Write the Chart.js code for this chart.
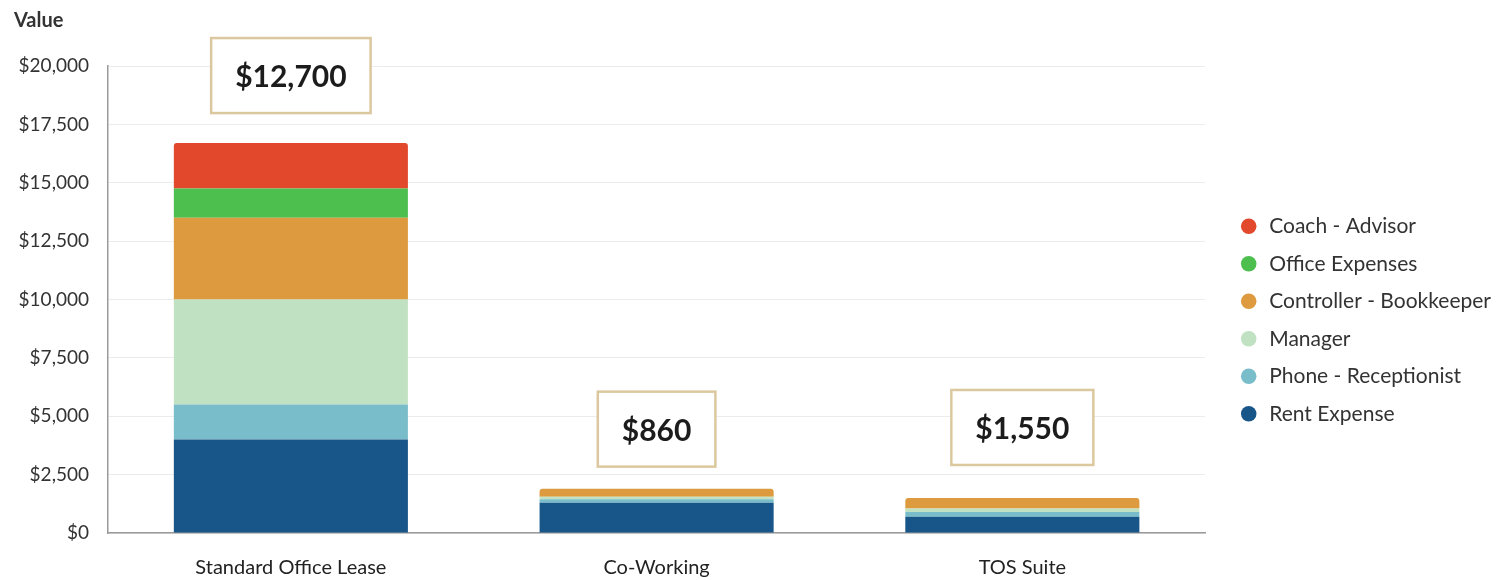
<!DOCTYPE html>
<html><head><meta charset="utf-8">
<script src="https://cdn.jsdelivr.net/npm/chart.js@4.4.0/dist/chart.umd.min.js"></script>
<style>html,body{margin:0;padding:0;background:#fff;}</style>
</head><body>
<canvas id="c" width="1502" height="580"></canvas>
<script>
const categories = ['Standard Office Lease', 'Co-Working', 'TOS Suite'];
const rentExpense = [4000, 1300, 700];
const phoneReceptionist = [1500, 150, 200];
const manager = [4500, 100, 150];
const controllerBookkeeper = [3500, 350, 450];
const officeExpenses = [1250, 0, 0];
const coachAdvisor = [1950, 0, 0];
const calloutValues = [12700, 860, 1550];
const yMin = 0, yMax = 20000, yStep = 2500;
const axisTitle = 'Value';

const seriesList = [
  {label: 'Rent Expense', data: rentExpense, color: '#18568a'},
  {label: 'Phone - Receptionist', data: phoneReceptionist, color: '#79bdca'},
  {label: 'Manager', data: manager, color: '#c1e1c3'},
  {label: 'Controller - Bookkeeper', data: controllerBookkeeper, color: '#dd9a3e'},
  {label: 'Office Expenses', data: officeExpenses, color: '#4dbf4f'},
  {label: 'Coach - Advisor', data: coachAdvisor, color: '#e2482b'}
];

function topIndex(i) {
  let t = -1;
  seriesList.forEach((s, k) => { if (s.data[i] > 0) t = k; });
  return t;
}
const money = v => '$' + Number(v).toLocaleString('en-US');
const FONT = 'Lato, "Noto Sans", sans-serif';

const calloutPlugin = {
  id: 'callouts',
  afterLayout(chart) {
    // move the legend a little to the right of the plot edge
    const lg = chart.legend;
    if (lg) { lg.left += 17; lg.right += 17; lg.top -= 3; lg.bottom -= 3; }
  },
  afterDatasetsDraw(chart, args, opts) {
    const {ctx, scales: {x, y}} = chart;
    ctx.save();
    ctx.font = 'bold 30px ' + FONT;
    categories.forEach((c, i) => {
      const total = seriesList.reduce((a, s) => a + s.data[i], 0);
      const cx = x.getPixelForValue(i);
      const bottom = y.getPixelForValue(total) - opts.gaps[i];
      const h = 75;
      const txt = money(calloutValues[i]);
      const w = ctx.measureText(txt).width + 48;
      ctx.fillStyle = '#ffffff';
      ctx.fillRect(cx - w / 2, bottom - h, w, h);
      ctx.strokeStyle = '#dcc89e';
      ctx.lineWidth = 2.5;
      ctx.strokeRect(cx - w / 2, bottom - h, w, h);
      ctx.fillStyle = '#1c1c1c';
      ctx.textAlign = 'center';
      ctx.textBaseline = 'middle';
      ctx.fillText(txt, cx, bottom - h / 2 + 2);
    });
    ctx.restore();
  },
  afterDraw(chart) {
    const {ctx} = chart;
    ctx.save();
    ctx.font = 'bold 20px ' + FONT;
    ctx.fillStyle = '#333';
    ctx.textAlign = 'left';
    ctx.textBaseline = 'alphabetic';
    ctx.fillText(axisTitle, 14, 27);
    ctx.restore();
  }
};

new Chart(document.getElementById('c'), {
  type: 'bar',
  data: {
    labels: categories,
    datasets: seriesList.map((s, k) => ({
      label: s.label,
      data: s.data,
      backgroundColor: s.color,
      borderColor: s.color,
      borderWidth: 0,
      borderRadius: ctx => (topIndex(ctx.dataIndex) === k ? {topLeft: 3, topRight: 3, bottomLeft: 0, bottomRight: 0} : 0),
      borderSkipped: false,
      categoryPercentage: 1,
      barPercentage: 0.64
    }))
  },
  options: {
    responsive: false,
    animation: false,
    devicePixelRatio: 1,
    layout: {padding: {left: 10, right: 18, top: 66, bottom: 0}},
    plugins: {
      callouts: {gaps: [30, 22, 33]},
      legend: {
        position: 'right',
        reverse: true,
        labels: {
          usePointStyle: true,
          pointStyle: 'circle',
          boxWidth: 20,
          boxHeight: 11,
          padding: 16.5,
          color: '#333',
          font: {family: FONT, size: 21}
        }
      },
      tooltip: {enabled: false},
      title: {display: false}
    },
    scales: {
      x: {
        stacked: true,
        afterFit: s => { s.height = 47; },
        grid: {display: false},
        border: {display: true, color: '#9a9a9a', width: 1.5},
        ticks: {color: '#222', padding: 15, font: {family: FONT, size: 20}}
      },
      y: {
        stacked: true,
        min: yMin,
        max: yMax,
        afterFit: s => { s.width = 98; },
        grid: {color: '#ececec', drawTicks: false},
        border: {display: true, color: '#9a9a9a', width: 1.5},
        ticks: {stepSize: yStep, color: '#333', padding: 19, font: {family: FONT, size: 19}, callback: v => money(v)}
      }
    }
  },
  plugins: [calloutPlugin]
});
</script>
</body></html>
